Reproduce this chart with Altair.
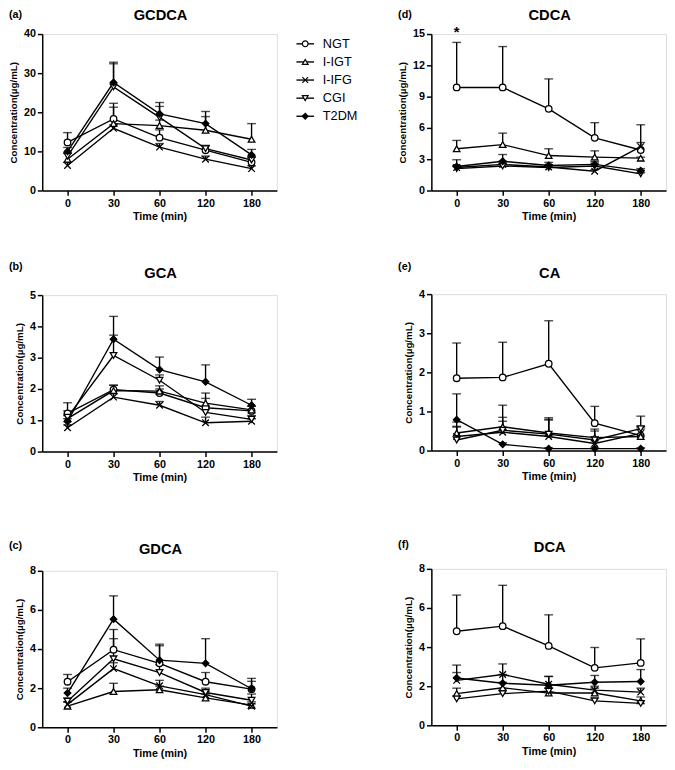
import altair as alt
import pandas as pd

times = ["0", "30", "60", "120", "180"]
groups = ["NGT", "I-IGT", "I-IFG", "CGI", "T2DM"]

# ---- (a) GCDCA ----
gcdca_mean = {
    "NGT":   [12.3, 18.3, 13.5, 10.3, 7.2],
    "I-IGT": [8.0, 17.1, 16.6, 15.4, 13.1],
    "I-IFG": [6.4, 15.9, 11.1, 8.0, 5.6],
    "CGI":   [8.8, 26.5, 18.7, 10.7, 7.8],
    "T2DM":  [10.0, 27.6, 19.6, 17.1, 9.1],
}
gcdca_top = {
    "NGT":   [14.8, 22.3, 15.5, 11.5, 8.5],
    "I-IGT": [9.5, 21.3, 18.0, 18.9, 17.1],
    "I-IFG": [7.2, 16.8, 12.0, 8.8, 6.3],
    "CGI":   [9.6, 32.4, 21.5, 11.5, 8.8],
    "T2DM":  [11.0, 32.8, 22.5, 20.2, 10.5],
}
# ---- (b) GCA ----
gca_mean = {
    "NGT":   [1.22, 1.98, 1.87, 1.40, 1.30],
    "I-IGT": [1.05, 1.95, 1.93, 1.55, 1.33],
    "I-IFG": [0.76, 1.74, 1.48, 0.92, 0.97],
    "CGI":   [1.10, 3.07, 2.28, 1.25, 1.03],
    "T2DM":  [0.96, 3.59, 2.62, 2.23, 1.48],
}
gca_top = {
    "NGT":   [1.56, 2.12, 2.00, 1.70, 1.45],
    "I-IGT": [1.15, 2.12, 2.10, 1.87, 1.45],
    "I-IFG": [0.85, 1.85, 1.60, 1.10, 1.05],
    "CGI":   [1.30, 3.72, 2.45, 1.45, 1.15],
    "T2DM":  [1.05, 4.32, 3.02, 2.77, 1.67],
}
# ---- (c) GDCA ----
gdca_mean = {
    "NGT":   [2.33, 3.97, 3.27, 2.33, 1.95],
    "I-IGT": [1.08, 1.83, 1.92, 1.50, 1.13],
    "I-IFG": [1.17, 3.00, 2.12, 1.67, 1.08],
    "CGI":   [1.33, 3.50, 2.80, 1.78, 1.38],
    "T2DM":  [1.75, 5.53, 3.43, 3.27, 1.97],
}
gdca_top = {
    "NGT":   [2.70, 5.00, 4.17, 2.80, 2.35],
    "I-IGT": [1.30, 2.25, 2.10, 1.70, 1.30],
    "I-IFG": [1.30, 3.30, 2.40, 1.85, 1.20],
    "CGI":   [1.50, 4.53, 3.20, 2.00, 1.70],
    "T2DM":  [2.00, 6.72, 4.25, 4.53, 2.50],
}
# ---- (d) CDCA ----
cdca_mean = {
    "NGT":   [9.88, 9.88, 7.83, 5.05, 3.88],
    "I-IGT": [4.00, 4.40, 3.35, 3.20, 3.10],
    "I-IFG": [2.20, 2.50, 2.25, 1.85, 4.20],
    "CGI":   [2.10, 2.35, 2.20, 2.35, 1.60],
    "T2DM":  [2.30, 2.80, 2.40, 2.50, 1.90],
}
cdca_top = {
    "NGT":   [14.2, 13.8, 10.7, 6.5, 6.3],
    "I-IGT": [4.80, 5.50, 4.00, 3.80, 3.20],
    "I-IFG": [2.40, 2.80, 2.40, 2.00, 4.60],
    "CGI":   [2.30, 2.60, 2.40, 2.50, 1.70],
    "T2DM":  [2.95, 3.45, 2.70, 2.80, 2.10],
}
# ---- (e) CA ----
ca_mean = {
    "NGT":   [1.85, 1.87, 2.22, 0.70, 0.38],
    "I-IGT": [0.45, 0.61, 0.45, 0.33, 0.36],
    "I-IFG": [0.36, 0.47, 0.36, 0.18, 0.44],
    "CGI":   [0.27, 0.52, 0.42, 0.27, 0.56],
    "T2DM":  [0.79, 0.16, 0.05, 0.05, 0.05],
}
ca_top = {
    "NGT":   [2.75, 2.77, 3.32, 1.13, 0.88],
    "I-IGT": [0.73, 1.16, 0.84, 0.55, 0.60],
    "I-IFG": [0.60, 0.75, 0.80, 0.35, 0.55],
    "CGI":   [0.62, 0.85, 0.78, 0.50, 0.62],
    "T2DM":  [1.45, 0.20, 0.07, 0.07, 0.07],
}
# ---- (f) DCA ----
dca_mean = {
    "NGT":   [4.81, 5.07, 4.06, 2.94, 3.19],
    "I-IGT": [1.62, 1.92, 1.65, 1.65, 1.25],
    "I-IFG": [2.30, 2.60, 2.10, 1.80, 1.70],
    "CGI":   [1.35, 1.62, 1.75, 1.25, 1.12],
    "T2DM":  [2.42, 2.15, 2.05, 2.20, 2.24],
}
dca_top = {
    "NGT":   [6.66, 7.16, 5.65, 3.98, 4.42],
    "I-IGT": [1.90, 2.20, 1.90, 1.90, 1.45],
    "I-IFG": [2.70, 3.14, 2.50, 2.00, 1.90],
    "CGI":   [1.50, 1.80, 1.90, 1.40, 1.25],
    "T2DM":  [3.08, 2.60, 2.50, 2.55, 2.85],
}

FONT = "Liberation Sans"
shape_range = ["circle", "triangle-up", "M-1,-1L1,1M-1,1L1,-1", "triangle-down", "diamond"]
fill_range = ["white", "white", "white", "white", "black"]


def long_df(means, tops):
    rows = []
    for g in groups:
        for i, t in enumerate(times):
            rows.append({"group": g, "time": t, "mean": means[g][i], "top": tops[g][i]})
    return pd.DataFrame(rows)


def panel(means, tops, label, title, ymax, ystep, label_y, title_y, star=False):
    df = long_df(means, tops)
    yvals = [ystep * k for k in range(int(round(ymax / ystep)) + 1)]
    xenc = alt.X("time:N", sort=times, title="Time (min)",
                 scale=alt.Scale(type="point", padding=0.55),
                 axis=alt.Axis(labelAngle=0, labelFont=FONT, labelFontWeight="bold",
                               labelFontSize=11, labelColor="black", titleFont=FONT,
                               titleFontWeight="bold", titleFontSize=11, titleColor="black",
                               domainColor="black", domainWidth=1.5, tickColor="black",
                               tickWidth=1.5, tickSize=5, labelPadding=2, titlePadding=3,
                               grid=False))

    def yenc(field):
        return alt.Y(field, title="Concentration(µg/mL)",
                     scale=alt.Scale(domain=[0, ymax], nice=False, zero=True),
                     axis=alt.Axis(values=yvals, labelFont=FONT, labelFontWeight="bold",
                                   labelFontSize=11, labelColor="black", titleFont=FONT,
                                   titleFontWeight="bold", titleFontSize=10, titleColor="black",
                                   domainColor="black", domainWidth=1.5, tickColor="black",
                                   tickWidth=1.5, tickSize=5, labelPadding=2, titlePadding=5,
                                   grid=False))

    base = alt.Chart(df).encode(x=xenc)
    lines = base.mark_line(color="black", strokeWidth=1.4).encode(
        y=yenc("mean:Q"), detail="group:N")
    err = base.mark_rule(color="black", strokeWidth=1.4).encode(
        y=yenc("mean:Q"), y2="top:Q")
    cap = base.mark_tick(color="black", size=9, thickness=1.4).encode(y=yenc("top:Q"))
    pts = base.mark_point(filled=True, stroke="black", strokeWidth=1.3, size=45,
                          opacity=1, fillOpacity=1).encode(
        y=yenc("mean:Q"),
        shape=alt.Shape("group:N", sort=groups,
                        scale=alt.Scale(domain=groups, range=shape_range), legend=None),
        fill=alt.Fill("group:N", sort=groups,
                      scale=alt.Scale(domain=groups, range=fill_range), legend=None),
    )
    lab = alt.Chart(pd.DataFrame({"t": [label]})).mark_text(
        align="left", baseline="alphabetic", font=FONT, fontWeight="bold", fontSize=11,
        color="black").encode(x=alt.value(-34), y=alt.value(label_y), text="t:N")
    ttl = alt.Chart(pd.DataFrame({"t": [title]})).mark_text(
        align="center", baseline="alphabetic", font=FONT, fontWeight="bold", fontSize=15,
        color="black").encode(x=alt.value(121), y=alt.value(title_y), text="t:N")
    layers = [lines, err, cap, pts, lab, ttl]
    if star:
        sdf = pd.DataFrame({"time": ["0"], "top": [ymax], "s": ["*"]})
        st = alt.Chart(sdf).mark_text(font=FONT, fontSize=15, fontWeight="bold",
                                      baseline="alphabetic", dy=3, color="black").encode(
            x=xenc, y=yenc("top:Q"), text="s:N")
        layers.append(st)
    return alt.layer(*layers).properties(width=240, height=160)


pa = panel(gcdca_mean, gcdca_top, "(a)", "GCDCA", 40, 10, -16, -14)
pb = panel(gca_mean, gca_top, "(b)", "GCA", 5, 1, -26, -17)
pc = panel(gdca_mean, gdca_top, "(c)", "GDCA", 8, 2, -22, -17)
pd_ = panel(cdca_mean, cdca_top, "(d)", "CDCA", 15, 3, -16, -14, star=True)
pe = panel(ca_mean, ca_top, "(e)", "CA", 4, 1, -25, -17)
pf = panel(dca_mean, dca_top, "(f)", "DCA", 8, 2, -21, -17)

left = alt.vconcat(alt.vconcat(pa, pb, spacing=38), pc, spacing=57)
right = alt.vconcat(alt.vconcat(pd_, pe, spacing=38), pf, spacing=57)

leg_idx = list(range(len(groups)))
leg_df = pd.DataFrame({"group": groups, "idx": leg_idx})
leg_base = alt.Chart(leg_df).encode(
    y=alt.Y("idx:Q", scale=alt.Scale(domain=[-0.54, 5.4], reverse=True, nice=False, zero=False),
            axis=None))
leg_rule = leg_base.mark_rule(color="black", strokeWidth=1.4).encode(
    x=alt.value(8), x2=alt.value(26))
leg_pts = leg_base.mark_point(filled=True, stroke="black", strokeWidth=1.2, size=35,
                              opacity=1, fillOpacity=1).encode(
    x=alt.value(17),
    shape=alt.Shape("group:N", scale=alt.Scale(domain=groups, range=shape_range), legend=None),
    fill=alt.Fill("group:N", scale=alt.Scale(domain=groups, range=fill_range), legend=None))
leg_txt = leg_base.mark_text(align="left", baseline="middle", font=FONT, fontSize=13,
                             color="black").encode(x=alt.value(35), text="group:N")
legend = alt.layer(leg_rule, leg_pts, leg_txt).properties(
    width=100, height=110,
    view=alt.ViewBackground(stroke="transparent", fill="transparent"))

chart = alt.hconcat(left, legend, right, spacing=10).properties(
    padding={"left": 0, "top": -9, "right": 0, "bottom": 0}
).configure_view(stroke="transparent").configure(background="white")

chart.save("out.html", embed_options={"renderer": "svg", "actions": False})
